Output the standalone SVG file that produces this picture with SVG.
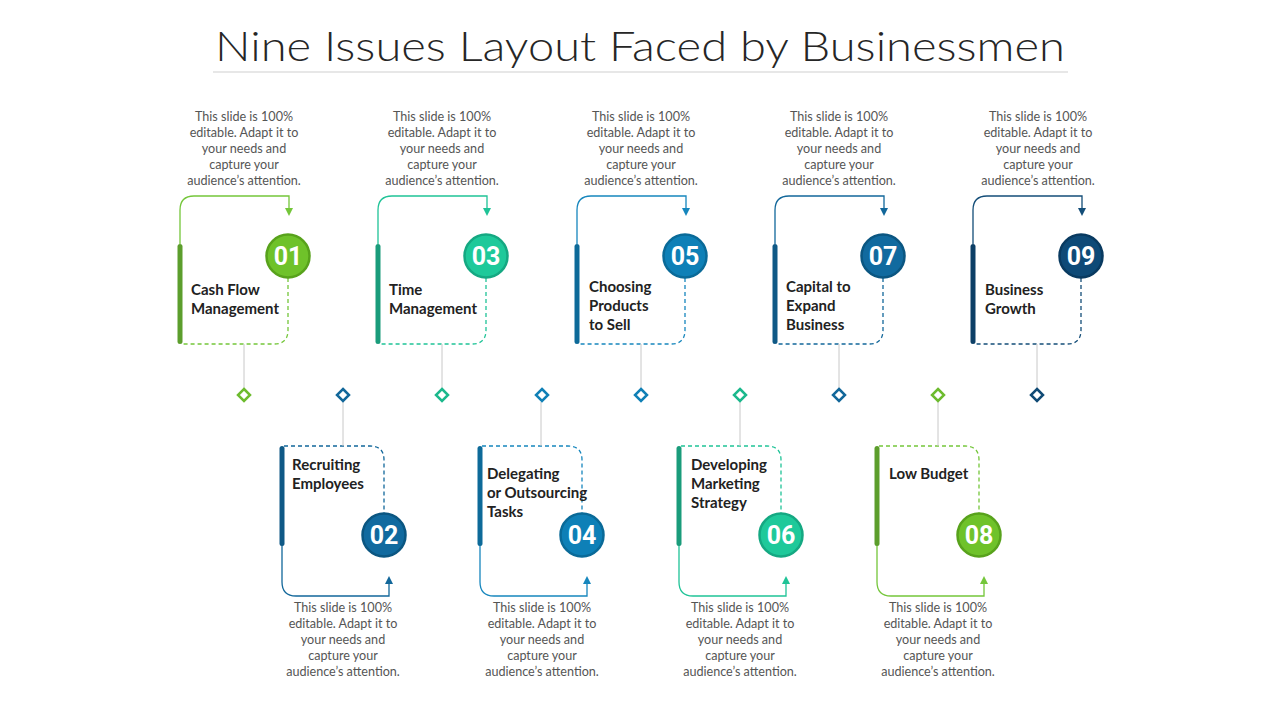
<svg xmlns="http://www.w3.org/2000/svg" width="1280" height="720" viewBox="0 0 1280 720">
<defs>
<style>
.title{font-family:Lato,"Liberation Sans",Arial,sans-serif;font-weight:300;font-size:42px;fill:#262626}
.desc{font-family:Lato,"Liberation Sans",sans-serif;font-size:12.6px;fill:#555;text-anchor:middle}
.lbl{font-family:Lato,"Liberation Sans",sans-serif;font-size:15px;font-weight:bold;fill:#222}
.num{font-family:Roboto,"Liberation Sans",sans-serif;font-size:25px;font-weight:bold;fill:#fff;text-anchor:middle}
.gray{stroke:#c8c8c8;stroke-width:1;fill:none}
.solid{fill:none;stroke-width:1.3}
.dash{fill:none;stroke-width:1.3;stroke-dasharray:4 3}
.dia{fill:#fff;stroke-width:2.5}
.green .solid,.green .dash{stroke:#74c63a}.green .bar{fill:#5c9e2c}.green .c{fill:#6fc22a;stroke:#58a21c}.green .dia{stroke:#6dbb2e}.green .ah{fill:#74c63a}
.teal .solid,.teal .dash{stroke:#1fc397}.teal .bar{fill:#1a9c7b}.teal .c{fill:#1ec99a;stroke:#15a882}.teal .dia{stroke:#1bb88c}.teal .ah{fill:#1fc397}
.blue .solid,.blue .dash{stroke:#1686bd}.blue .bar{fill:#0d6a99}.blue .c{fill:#0e80b7;stroke:#0a6a98}.blue .dia{stroke:#1080b6}.blue .ah{fill:#1686bd}
.blue2 .solid,.blue2 .dash{stroke:#12679a}.blue2 .bar{fill:#0f5986}.blue2 .c{fill:#116a9f;stroke:#0b5681}.blue2 .dia{stroke:#12679a}.blue2 .ah{fill:#12679a}
.navy .solid,.navy .dash{stroke:#134d78}.navy .bar{fill:#0c3f66}.navy .c{fill:#0e4a77;stroke:#093a60}.navy .dia{stroke:#104a75}.navy .ah{fill:#134d78}
</style>
</defs>
<rect width="1280" height="720" fill="#fff"/>
<g id="title">
<text class="title" x="640" y="61" text-anchor="middle" textLength="850" lengthAdjust="spacingAndGlyphs">Nine Issues Layout Faced by Businessmen</text>
<line x1="213" y1="72" x2="1068" y2="72" stroke="#d0d0d0" stroke-width="1.2"/>
</g>

<!-- connectors -->
<g id="connectors">
<g class="green" transform="translate(180,0)"><path class="solid" d="M0,244 V210 Q0,196 14,196 H109 V209"/><path class="ah" d="M105,208 H113 L109,216 Z"/><path class="dash" d="M108,278 V330 Q108,344 94,344 H2"/><path class="gray" d="M64,344 V388"/></g>
<g class="teal" transform="translate(378,0)"><path class="solid" d="M0,244 V210 Q0,196 14,196 H109 V209"/><path class="ah" d="M105,208 H113 L109,216 Z"/><path class="dash" d="M108,278 V330 Q108,344 94,344 H2"/><path class="gray" d="M64,344 V388"/></g>
<g class="blue" transform="translate(577,0)"><path class="solid" d="M0,244 V210 Q0,196 14,196 H109 V209"/><path class="ah" d="M105,208 H113 L109,216 Z"/><path class="dash" d="M108,278 V330 Q108,344 94,344 H2"/><path class="gray" d="M64,344 V388"/></g>
<g class="blue2" transform="translate(775,0)"><path class="solid" d="M0,244 V210 Q0,196 14,196 H109 V209"/><path class="ah" d="M105,208 H113 L109,216 Z"/><path class="dash" d="M108,278 V330 Q108,344 94,344 H2"/><path class="gray" d="M64,344 V388"/></g>
<g class="navy" transform="translate(973,0)"><path class="solid" d="M0,244 V210 Q0,196 14,196 H109 V209"/><path class="ah" d="M105,208 H113 L109,216 Z"/><path class="dash" d="M108,278 V330 Q108,344 94,344 H2"/><path class="gray" d="M64,344 V388"/></g>

<g class="blue2" transform="translate(282,0)"><path class="dash" d="M2,446 H88 Q102,446 102,460 V513"/><path class="solid" d="M0,545 V582 Q0,596 14,596 H107 V583"/><path class="ah" d="M103,584 H111 L107,576 Z"/><path class="gray" d="M61,402 V446"/></g>
<g class="blue" transform="translate(480,0)"><path class="dash" d="M2,446 H88 Q102,446 102,460 V513"/><path class="solid" d="M0,545 V582 Q0,596 14,596 H107 V583"/><path class="ah" d="M103,584 H111 L107,576 Z"/><path class="gray" d="M61,402 V446"/></g>
<g class="teal" transform="translate(679,0)"><path class="dash" d="M2,446 H88 Q102,446 102,460 V513"/><path class="solid" d="M0,545 V582 Q0,596 14,596 H107 V583"/><path class="ah" d="M103,584 H111 L107,576 Z"/><path class="gray" d="M61,402 V446"/></g>
<g class="green" transform="translate(877,0)"><path class="dash" d="M2,446 H88 Q102,446 102,460 V513"/><path class="solid" d="M0,545 V582 Q0,596 14,596 H107 V583"/><path class="ah" d="M103,584 H111 L107,576 Z"/><path class="gray" d="M61,402 V446"/></g>
</g>

<!-- top nodes -->
<g id="node01" class="green" transform="translate(180,0)">
<rect class="bar" x="-2.5" y="244" width="5" height="100" rx="2.5"/>
<circle class="c" cx="108" cy="256" r="21.5" stroke-width="2.5"/>
<text class="num" x="108" y="265">01</text>
<text class="lbl" x="11" y="295">Cash Flow</text><text class="lbl" x="11" y="314">Management</text>
<path class="dia" d="M64,389 L70,395 L64,401 L58,395 Z"/>
<text class="desc" x="64" y="121">This slide is 100%</text><text class="desc" x="64" y="137">editable. Adapt it to</text><text class="desc" x="64" y="153">your needs and</text><text class="desc" x="64" y="169">capture your</text><text class="desc" x="64" y="185">audience’s attention.</text>
</g>
<g id="node03" class="teal" transform="translate(378,0)">
<rect class="bar" x="-2.5" y="244" width="5" height="100" rx="2.5"/>
<circle class="c" cx="108" cy="256" r="21.5" stroke-width="2.5"/>
<text class="num" x="108" y="265">03</text>
<text class="lbl" x="11" y="295">Time</text><text class="lbl" x="11" y="314">Management</text>
<path class="dia" d="M64,389 L70,395 L64,401 L58,395 Z"/>
<text class="desc" x="64" y="121">This slide is 100%</text><text class="desc" x="64" y="137">editable. Adapt it to</text><text class="desc" x="64" y="153">your needs and</text><text class="desc" x="64" y="169">capture your</text><text class="desc" x="64" y="185">audience’s attention.</text>
</g>
<g id="node05" class="blue" transform="translate(577,0)">
<rect class="bar" x="-2.5" y="244" width="5" height="100" rx="2.5"/>
<circle class="c" cx="108" cy="256" r="21.5" stroke-width="2.5"/>
<text class="num" x="108" y="265">05</text>
<text class="lbl" x="12" y="292">Choosing</text><text class="lbl" x="12" y="311">Products</text><text class="lbl" x="12" y="330">to Sell</text>
<path class="dia" d="M64,389 L70,395 L64,401 L58,395 Z"/>
<text class="desc" x="64" y="121">This slide is 100%</text><text class="desc" x="64" y="137">editable. Adapt it to</text><text class="desc" x="64" y="153">your needs and</text><text class="desc" x="64" y="169">capture your</text><text class="desc" x="64" y="185">audience’s attention.</text>
</g>
<g id="node07" class="blue2" transform="translate(775,0)">
<rect class="bar" x="-2.5" y="244" width="5" height="100" rx="2.5"/>
<circle class="c" cx="108" cy="256" r="21.5" stroke-width="2.5"/>
<text class="num" x="108" y="265">07</text>
<text class="lbl" x="11" y="292">Capital to</text><text class="lbl" x="11" y="311">Expand</text><text class="lbl" x="11" y="330">Business</text>
<path class="dia" d="M64,389 L70,395 L64,401 L58,395 Z"/>
<text class="desc" x="64" y="121">This slide is 100%</text><text class="desc" x="64" y="137">editable. Adapt it to</text><text class="desc" x="64" y="153">your needs and</text><text class="desc" x="64" y="169">capture your</text><text class="desc" x="64" y="185">audience’s attention.</text>
</g>
<g id="node09" class="navy" transform="translate(973,0)">
<rect class="bar" x="-2.5" y="244" width="5" height="100" rx="2.5"/>
<circle class="c" cx="108" cy="256" r="21.5" stroke-width="2.5"/>
<text class="num" x="108" y="265">09</text>
<text class="lbl" x="12" y="295">Business</text><text class="lbl" x="12" y="314">Growth</text>
<path class="dia" d="M64,389 L70,395 L64,401 L58,395 Z"/>
<text class="desc" x="65" y="121">This slide is 100%</text><text class="desc" x="65" y="137">editable. Adapt it to</text><text class="desc" x="65" y="153">your needs and</text><text class="desc" x="65" y="169">capture your</text><text class="desc" x="65" y="185">audience’s attention.</text>
</g>

<!-- bottom nodes -->
<g id="node02" class="blue2" transform="translate(282,0)">
<rect class="bar" x="-2.5" y="446" width="5" height="100" rx="2.5"/>
<circle class="c" cx="102" cy="535" r="21.5" stroke-width="2.5"/>
<text class="num" x="102" y="544">02</text>
<text class="lbl" x="10" y="470">Recruiting</text><text class="lbl" x="10" y="489">Employees</text>
<path class="dia" d="M61,389 L67,395 L61,401 L55,395 Z"/>
<text class="desc" x="61" y="612">This slide is 100%</text><text class="desc" x="61" y="628">editable. Adapt it to</text><text class="desc" x="61" y="644">your needs and</text><text class="desc" x="61" y="660">capture your</text><text class="desc" x="61" y="676">audience’s attention.</text>
</g>
<g id="node04" class="blue" transform="translate(480,0)">
<rect class="bar" x="-2.5" y="446" width="5" height="100" rx="2.5"/>
<circle class="c" cx="102" cy="535" r="21.5" stroke-width="2.5"/>
<text class="num" x="102" y="544">04</text>
<text class="lbl" x="7" y="479">Delegating</text><text class="lbl" x="7" y="498">or Outsourcing</text><text class="lbl" x="7" y="517">Tasks</text>
<path class="dia" d="M62,389 L68,395 L62,401 L56,395 Z"/>
<text class="desc" x="62" y="612">This slide is 100%</text><text class="desc" x="62" y="628">editable. Adapt it to</text><text class="desc" x="62" y="644">your needs and</text><text class="desc" x="62" y="660">capture your</text><text class="desc" x="62" y="676">audience’s attention.</text>
</g>
<g id="node06" class="teal" transform="translate(679,0)">
<rect class="bar" x="-2.5" y="446" width="5" height="100" rx="2.5"/>
<circle class="c" cx="102" cy="535" r="21.5" stroke-width="2.5"/>
<text class="num" x="102" y="544">06</text>
<text class="lbl" x="12" y="470">Developing</text><text class="lbl" x="12" y="489">Marketing</text><text class="lbl" x="12" y="508">Strategy</text>
<path class="dia" d="M61,389 L67,395 L61,401 L55,395 Z"/>
<text class="desc" x="61" y="612">This slide is 100%</text><text class="desc" x="61" y="628">editable. Adapt it to</text><text class="desc" x="61" y="644">your needs and</text><text class="desc" x="61" y="660">capture your</text><text class="desc" x="61" y="676">audience’s attention.</text>
</g>
<g id="node08" class="green" transform="translate(877,0)">
<rect class="bar" x="-2.5" y="446" width="5" height="100" rx="2.5"/>
<circle class="c" cx="102" cy="535" r="21.5" stroke-width="2.5"/>
<text class="num" x="102" y="544">08</text>
<text class="lbl" x="12" y="479">Low Budget</text>
<path class="dia" d="M61,389 L67,395 L61,401 L55,395 Z"/>
<text class="desc" x="61" y="612">This slide is 100%</text><text class="desc" x="61" y="628">editable. Adapt it to</text><text class="desc" x="61" y="644">your needs and</text><text class="desc" x="61" y="660">capture your</text><text class="desc" x="61" y="676">audience’s attention.</text>
</g>
</svg>
